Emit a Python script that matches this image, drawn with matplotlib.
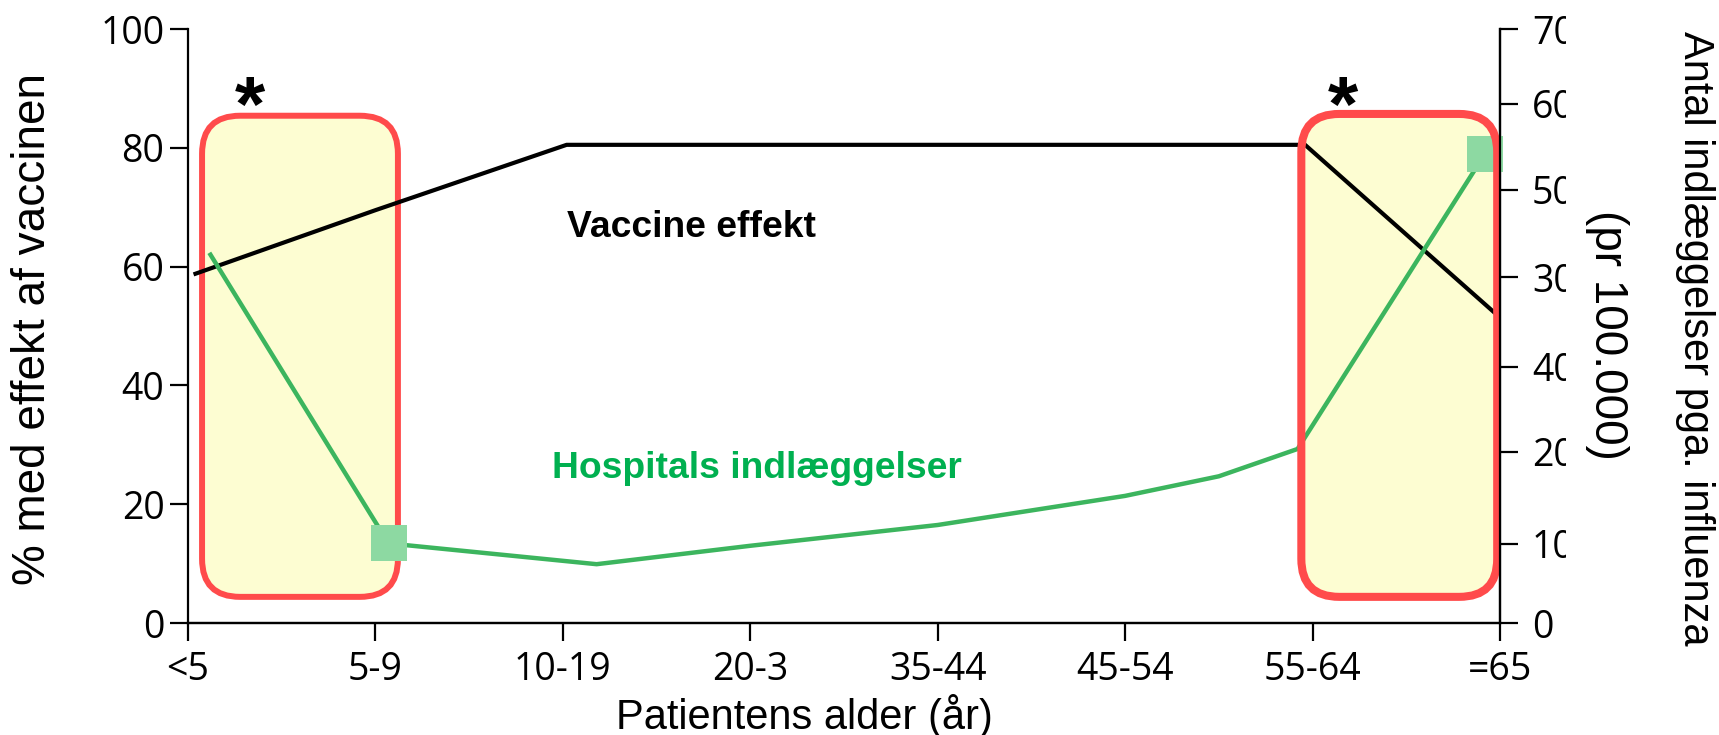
import matplotlib.pyplot as plt
from matplotlib.patches import FancyBboxPatch
from matplotlib.transforms import Bbox, TransformedBbox

# data
ages = ['<5', '5-9', '10-19', '20-3', '35-44', '45-54', '55-64', '=65']
vaccine_x = [0.04, 1, 2.02, 3, 4, 5, 5.96, 6.965]
vaccine = [58.8, 69.5, 80.5, 80.5, 80.5, 80.5, 80.5, 52.4]

hosp_x = [0.12, 1.07, 2.18, 3.0, 4.0, 5.0, 5.5, 5.92, 6.92]
hosp_y = [62.0, 13.4, 9.9, 13.0, 16.5, 21.4, 24.7, 29.3, 79.0]
hosp_marked = [1, 8]

left_ticks = [0, 20, 40, 60, 80, 100]
right_ticks = [0, 13.3, 28.8, 43.1, 58.2, 72.9, 87.4, 100]
right_labels = ['0', '10', '20', '40', '30', '50', '60', '70']

W, H = 1719, 735
fig = plt.figure(figsize=(W / 100, H / 100), dpi=100)
ax_l, ax_r, ax_b, ax_t = 188, 1500, 623, 29
ax = fig.add_axes([ax_l / W, 1 - ax_b / H, (ax_r - ax_l) / W, (ax_b - ax_t) / H])
ax2 = ax.twinx()

tick_font = 'Open Sans'
lab_font = 'Liberation Sans'
tick_size = 27

ax.set_xlim(0, 7)
ax.set_ylim(0, 100)
ax2.set_ylim(0, 100)
ax.set_xticks(range(len(ages)))
ax.set_xticklabels(ages, family=tick_font, fontsize=tick_size)
ax.set_yticks(left_ticks)
ax.set_yticklabels([str(t) for t in left_ticks], family=tick_font, fontsize=tick_size)
ax2.set_yticks(right_ticks)
ax2.set_yticklabels([])

for a in (ax, ax2):
    a.spines['top'].set_visible(False)
    for s in a.spines.values():
        s.set_linewidth(1.6)
ax.tick_params(axis='x', length=13, width=1.6, pad=7)
ax.tick_params(axis='y', length=13, width=1.6, pad=4)
ax2.tick_params(axis='y', length=13, width=1.6)
ax2.spines['left'].set_visible(False)

# right tick labels are cut off at the edge in the original
clip = TransformedBbox(Bbox([[0, 0], [1566 / W, 1]]), fig.transFigure)
for p, lab in zip(right_ticks, right_labels):
    t = ax2.text(1.0 + 32 / (ax_r - ax_l), p, lab, transform=ax2.get_yaxis_transform(),
                 family=tick_font, fontsize=tick_size, ha='left', va='center_baseline')
    t.set_clip_box(clip)
    t.set_clip_on(True)

# highlight boxes (rounded in pixel space)
pos = ax.get_position()
asp = (100 / (pos.height * H)) / (7 / (pos.width * W))
r = 38 / (pos.width * W / 7)
left_box = FancyBboxPatch((0.075, 4.4), 1.12 - 0.075, 85.4 - 4.4,
                          boxstyle=f'round,pad=0,rounding_size={r}', mutation_aspect=asp,
                          facecolor='#fdfdd2', edgecolor='#ff4b4b', linewidth=4.3, zorder=1)
ax.add_patch(left_box)
right_fill = FancyBboxPatch((5.94, 4.4), 6.985 - 5.94, 85.7 - 4.4,
                            boxstyle=f'round,pad=0,rounding_size={r}', mutation_aspect=asp,
                            facecolor='#fdfdd2', edgecolor='none', zorder=1)
right_edge = FancyBboxPatch((5.94, 4.4), 6.985 - 5.94, 85.7 - 4.4,
                            boxstyle=f'round,pad=0,rounding_size={r}', mutation_aspect=asp,
                            facecolor='none', edgecolor='#ff4b4b', linewidth=5.8, zorder=6)
ax.add_patch(right_fill)
ax.add_patch(right_edge)

ax.plot(vaccine_x, vaccine, color='black', lw=3, zorder=3, clip_on=False)
ax.plot(hosp_x, hosp_y, color='#3cb55e', lw=3.2, zorder=3, clip_on=False)
ax.plot([hosp_x[i] for i in hosp_marked], [hosp_y[i] for i in hosp_marked], 's',
        color='#8dd9a2', markersize=26, markeredgewidth=0, zorder=5, clip_on=False)

ax.text(2.02, 65, 'Vaccine effekt', family=lab_font, fontsize=26.8, fontweight='bold',
        color='black', va='baseline')
ax.text(1.94, 24.4, 'Hospitals indlæggelser', family=lab_font, fontsize=26.8,
        fontweight='bold', color='#00b050', va='baseline')

ax.text(0.33, 82.8, '*', family=lab_font, fontsize=56, fontweight='bold', ha='center', va='baseline')
ax.text(6.16, 82.8, '*', family=lab_font, fontsize=56, fontweight='bold', ha='center', va='baseline')

ax.set_xlabel('Patientens alder (år)', family=lab_font, fontsize=30, va='baseline')
ax.xaxis.set_label_coords(0.4695, -0.178)
ax.set_ylabel('% med effekt af vaccinen', family=lab_font, fontsize=33, va='center')
ax.yaxis.set_label_coords(-0.118, 0.495)
ax2.set_ylabel('Antal indlæggelser pga. influenza', family=lab_font, fontsize=30,
               rotation=-90, va='center')
ax2.yaxis.set_label_coords(1.149, 0.48)
ax2.text(1.0816, 0.485, '(pr 100.000)', transform=ax2.transAxes, family=lab_font,
         fontsize=33, rotation=-90, ha='center', va='center')

fig.savefig('out.png', dpi=100)
